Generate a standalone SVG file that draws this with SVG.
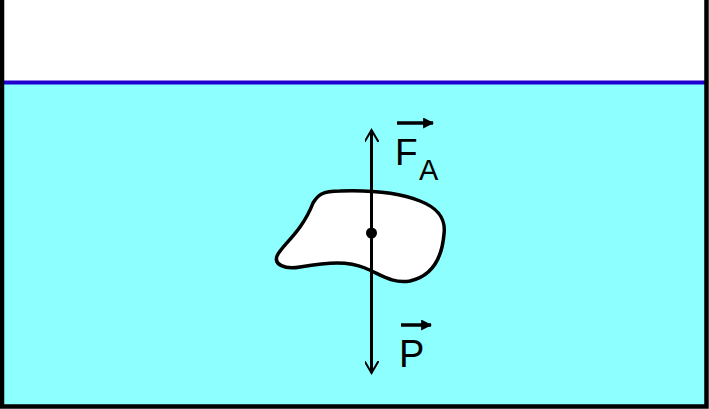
<svg xmlns="http://www.w3.org/2000/svg" width="709" height="409" viewBox="0 0 709 409">
<defs>
<style>
.ln{stroke:#000;stroke-width:3;fill:none}
.ov{stroke:#000;stroke-width:3.5;fill:none}
.lbl{font-family:"Liberation Sans",Arial,sans-serif;fill:#000}
</style>
<marker id="ah" viewBox="0 0 14 14" refX="12" refY="7" markerWidth="14" markerHeight="14" markerUnits="userSpaceOnUse" orient="auto">
<path d="M0,0 L12,7 L0,14" fill="none" stroke="#000" stroke-width="2"/>
</marker>
<marker id="sa" viewBox="0 0 10 10" refX="9" refY="5" markerWidth="11" markerHeight="11" markerUnits="userSpaceOnUse" orient="auto">
<path d="M0,0 L10,5 L0,10 Z" fill="#000"/>
</marker>
</defs>
<rect x="0" y="0" width="709" height="409" fill="#fff"/>
<g id="water">
<rect x="2" y="82" width="704" height="324" fill="#8effff"/>
<line x1="2" y1="82.5" x2="706" y2="82.5" stroke="#2000d0" stroke-width="4"/>
</g>
<g id="container">
<path d="M2,0 V406.5 H706.5 V0" fill="none" stroke="#000" stroke-width="4.5"/>
</g>
<g id="body">
<path d="M313,203 C318,195 322,191 340,191 C370,190 400,193 420,201 C438,208 446,218 444,234 C442,258 432,276 410,281 C392,284 380,274 365,268 C348,261 330,262 300,267 C284,270 274,264 277,256 C281,246 302,232 313,203 Z" fill="#fff" stroke="#000" stroke-width="3.5"/>
</g>
<g id="connectors">
<line class="ln" x1="371.5" y1="233" x2="371.5" y2="130" marker-end="url(#ah)"/>
<line class="ln" x1="371.5" y1="233" x2="371.5" y2="373" marker-end="url(#ah)"/>
<circle cx="371.5" cy="233" r="5.5" fill="#000"/>
</g>
<g id="labelF">
<line class="ov" x1="397" y1="123" x2="433" y2="123" marker-end="url(#sa)"/>
<text class="lbl" x="395" y="165" font-size="37">F</text>
<text class="lbl" x="419" y="180" font-size="29">A</text>
</g>
<g id="labelP">
<line class="ov" x1="401" y1="325" x2="431" y2="325" marker-end="url(#sa)"/>
<text class="lbl" x="399" y="367" font-size="38">P</text>
</g>
</svg>
